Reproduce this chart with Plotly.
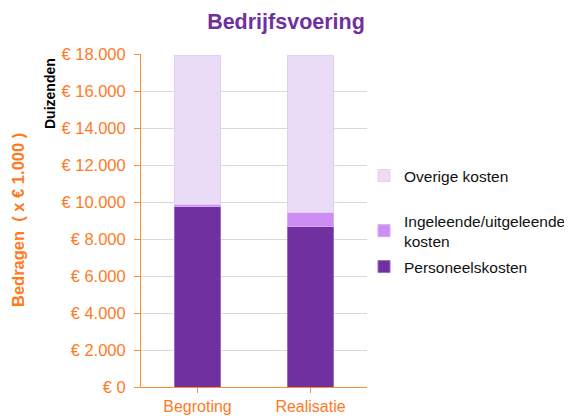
import plotly.graph_objects as go

categories = ["Begroting", "Realisatie"]
personeelskosten = [9750, 8650]
ingeleend = [130, 800]
overige = [8020, 8450]

series_names = ["Personeelskosten", "Ingeleende/uitgeleende<br>kosten", "Overige kosten"]
tick_values = [0, 2000, 4000, 6000, 8000, 10000, 12000, 14000, 16000, 18000]
tick_labels = ["€ 0", "€ 2.000", "€ 4.000", "€ 6.000", "€ 8.000", "€ 10.000",
               "€ 12.000", "€ 14.000", "€ 16.000", "€ 18.000"]

ORANGE = "#FF7A1F"
AXIS_ORANGE = "#FF8C2E"
FONT = "Liberation Sans, Arial, sans-serif"

# page body has an 8px margin; figure is sized so it fills the 572x416 window
OFF = 8
W, H = 572 - OFF, 416 - OFF


def cx(px):
    return (px - OFF) / W


def cy(py):
    return 1 - (py - OFF) / H


fig = go.Figure()
fig.add_trace(go.Bar(x=categories, y=personeelskosten, name=series_names[0],
                     marker=dict(color="#7030A0", line=dict(color="#9A6BC6", width=1)),
                     legend="legend3"))
fig.add_trace(go.Bar(x=categories, y=ingeleend, name=series_names[1],
                     marker=dict(color="#CC8EF5", line=dict(color="#D9A8F8", width=1)),
                     legend="legend2"))
fig.add_trace(go.Bar(x=categories, y=overige, name=series_names[2],
                     marker=dict(color="#EADCF7", line=dict(color="#E2D0F4", width=1)),
                     legend="legend"))

legend_common = dict(xref="container", yref="container", xanchor="left", yanchor="middle",
                     font=dict(family=FONT, size=15.5, color="#111111"),
                     bgcolor="rgba(0,0,0,0)", borderwidth=0)

fig.update_layout(
    width=W, height=H,
    margin=dict(l=141 - OFF, r=205, t=54 - OFF, b=29, autoexpand=False),
    paper_bgcolor="white", plot_bgcolor="white",
    barmode="stack", bargap=0.6,
    title=dict(text="<b>Bedrijfsvoering</b>", x=cx(286), xanchor="center",
               y=cy(21), yanchor="middle",
               font=dict(family=FONT, size=21.5, color="#7030A0")),
    showlegend=True,
    legend=dict(x=cx(364), y=cy(176), **legend_common),
    legend2=dict(x=cx(364), y=cy(231), **legend_common),
    legend3=dict(x=cx(364), y=cy(267), **legend_common),
    xaxis=dict(range=[-0.5, 1.5], showline=True, linecolor=AXIS_ORANGE, linewidth=1,
               ticks="outside", ticklen=5, tickcolor=AXIS_ORANGE, automargin=False,
               tickfont=dict(family=FONT, size=16, color=ORANGE), showgrid=False),
    yaxis=dict(range=[0, 18000], tickvals=tick_values, ticktext=tick_labels,
               showline=True, linecolor=AXIS_ORANGE, linewidth=1, automargin=False,
               ticks="outside", ticklen=6, tickcolor=AXIS_ORANGE, ticklabelstandoff=5,
               tickfont=dict(family=FONT, size=16.5, color=ORANGE),
               showgrid=True, gridcolor="#D9D9D9", gridwidth=1, zeroline=False),
    annotations=[
        dict(text="<b>Bedragen  ( x € 1.000 )</b>", xref="paper", yref="paper",
             x=(18 - 141) / 226, y=(387 - 220) / 333, xanchor="center", yanchor="middle",
             textangle=-90, showarrow=False,
             font=dict(family=FONT, size=16.5, color=ORANGE)),
        dict(text="<b>Duizenden</b>", xref="paper", yref="paper",
             x=(50 - 141) / 226, y=(387 - 94) / 333, xanchor="center", yanchor="middle",
             textangle=-90, showarrow=False,
             font=dict(family=FONT, size=14, color="#000000")),
    ],
)

fig.write_html("out.html")
